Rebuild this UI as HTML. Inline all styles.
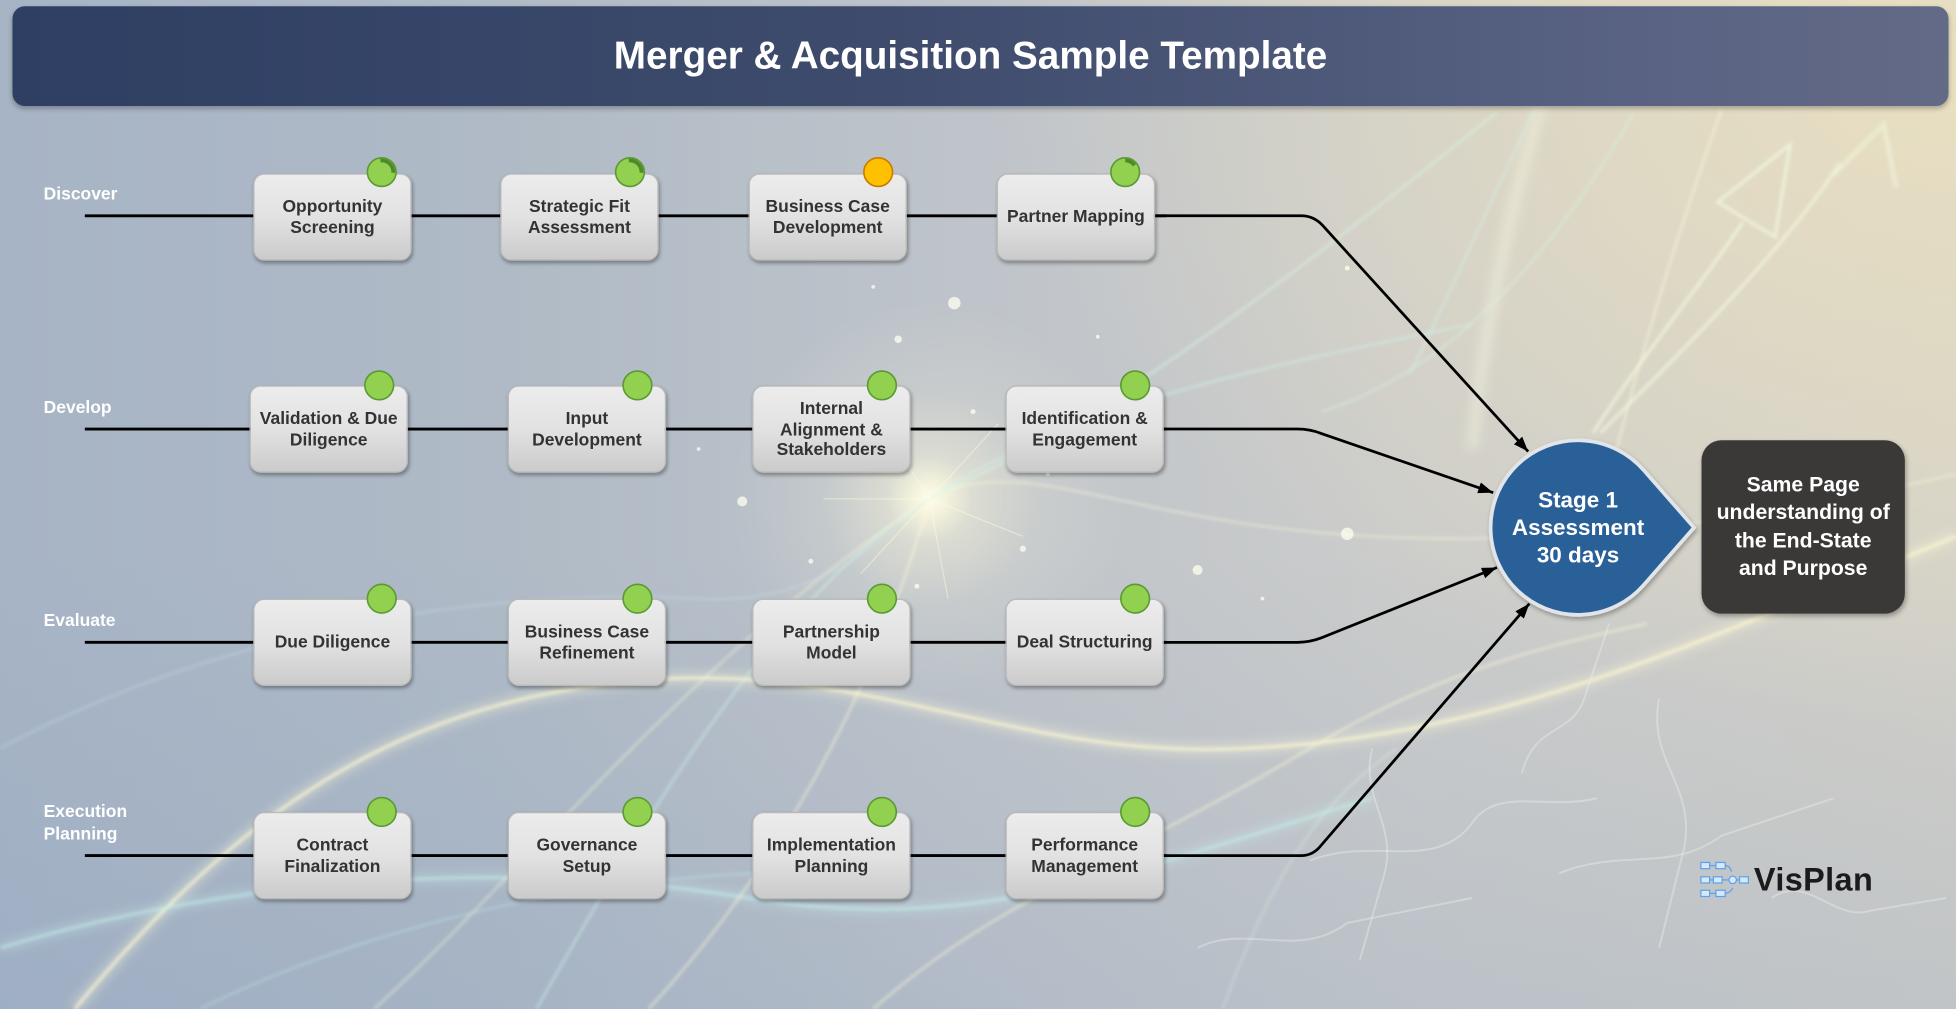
<!DOCTYPE html>
<html>
<head>
<meta charset="utf-8">
<style>
  html, body { margin:0; padding:0; width:1956px; height:1009px; overflow:hidden; background:#b9c0c8; }
  #stage {
    position:absolute; left:0; top:0; width:1568px; height:809px;
    transform: scale(1.24745, 1.24722); transform-origin: 0 0;
    overflow:hidden;
    font-family: "Liberation Sans", Arial, sans-serif;
    background:
      radial-gradient(circle at 745px 400px, rgba(255,254,238,1) 0px, rgba(255,252,225,0.85) 12px, rgba(255,250,220,0.45) 35px, rgba(255,250,220,0.15) 85px, rgba(255,250,220,0) 160px),
      radial-gradient(ellipse 760px 520px at 1568px 60px, rgba(234,224,192,0.95), rgba(234,224,192,0) 100%),
      linear-gradient(to bottom, rgba(0,0,0,0) 55%, rgba(130,155,190,0.22) 100%),
      linear-gradient(90deg, #a7b4c5 0%, #afbac6 25%, #bfc4ca 50%, #cbcccb 72%, #d2d0c9 100%);
  }
  .abs { position:absolute; }
  .header {
    left:10px; top:5px; width:1552px; height:80px; border-radius:10px; box-sizing:border-box; padding-right:16px;
    background: linear-gradient(90deg, #2e3f63 0%, #3e4b6c 45%, #5a6384 85%, #636a86 100%);
    box-shadow: 0 2px 4px rgba(0,0,0,0.25);
    color:#fff; font-weight:bold; font-size:31px; line-height:80px; text-align:center;
  }
  .lbl { color:#fff; font-weight:bold; font-size:14px; line-height:18px; left:35px; }
  .box {
    width:127px; height:70px; box-sizing:border-box;
    border:1px solid #b9b9b9; border-radius:9px;
    background: linear-gradient(to bottom, #ececec 0%, #e2e2e2 50%, #cbcbcb 100%);
    box-shadow: 1px 2px 3px rgba(0,0,0,0.32);
    display:flex; align-items:center; justify-content:center; text-align:center;
    color:#333; font-weight:bold; font-size:14px; line-height:17.5px;
  }
  .stagetxt {
    left:1195px; top:390px; width:140px; height:66px; text-align:center;
    color:#fff; font-weight:bold; font-size:18px; line-height:22px;
  }
  .dark {
    left:1364px; top:353px; width:163px; height:139px; border-radius:16px;
    background:#3a3938; box-shadow: 1px 2px 4px rgba(0,0,0,0.3);
    display:flex; align-items:center; justify-content:center; text-align:center;
    color:#fff; font-weight:bold; font-size:17px; line-height:22.5px;
  }
  .logo { left:1406px; top:688px; font-size:26px; font-weight:bold; color:#1b1b1b; line-height:34px; letter-spacing:0.3px; }
</style>
</head>
<body>
<div id="stage">

  <!-- background streaks -->
  <svg class="abs" style="left:0;top:0" width="1568" height="809" viewBox="0 0 1568 809">
    <defs>
      <filter id="bl" x="-10%" y="-10%" width="120%" height="120%"><feGaussianBlur stdDeviation="1.2"/></filter>
      <filter id="bl4" x="-20%" y="-20%" width="140%" height="140%"><feGaussianBlur stdDeviation="4"/></filter>
    </defs>
    <g fill="none" filter="url(#bl4)">
      <path d="M 1180 360 C 1190 260 1210 170 1235 85" stroke="rgba(245,245,225,0.45)" stroke-width="10"/>
      <path d="M 60 809 C 200 640 330 560 520 545 C 700 532 820 610 1000 600 C 1200 590 1350 520 1568 430" stroke="rgba(255,250,215,0.35)" stroke-width="9"/>
      <path d="M 0 760 C 200 700 420 690 600 720 C 780 750 900 700 1100 640" stroke="rgba(200,240,235,0.3)" stroke-width="8"/>
    </g>
    <g fill="none" filter="url(#bl)">
      <path d="M 60 809 C 200 640 330 560 520 545 C 700 532 820 610 1000 600 C 1200 590 1350 520 1568 430" stroke="rgba(255,250,210,0.7)" stroke-width="2.5"/>
      <path d="M 0 760 C 200 700 420 690 600 720 C 780 750 900 700 1100 640" stroke="rgba(195,242,235,0.6)" stroke-width="2.2"/>
      <path d="M 430 809 C 520 650 620 480 745 400 C 850 330 980 300 1180 260" stroke="rgba(205,245,235,0.5)" stroke-width="2"/>
      <path d="M 745 400 C 900 330 1050 210 1200 90" stroke="rgba(215,245,225,0.55)" stroke-width="2"/>
      <path d="M 520 809 C 620 700 700 560 745 400" stroke="rgba(255,250,215,0.5)" stroke-width="2"/>
      <path d="M 300 809 C 420 700 560 520 745 400 C 820 360 900 420 1100 430 C 1250 438 1400 420 1568 380" stroke="rgba(250,250,220,0.45)" stroke-width="1.8"/>
      <path d="M 0 600 C 150 520 350 470 560 480 C 650 485 700 440 745 400" stroke="rgba(200,235,235,0.35)" stroke-width="1.6"/>
      <path d="M 1277 347 C 1320 280 1370 220 1397 178" stroke="rgba(242,248,222,0.75)" stroke-width="2.5"/>
      <path d="M 1283 347 C 1350 280 1430 200 1475 131" stroke="rgba(242,248,222,0.7)" stroke-width="2.5"/>
      <path d="M 1377 162 L 1435 116 L 1423 190 Z" stroke="rgba(242,248,225,0.75)" stroke-width="2.5"/>
      <path d="M 1470 140 L 1510 100 L 1520 150" stroke="rgba(242,248,225,0.5)" stroke-width="4"/>
      <path d="M 1270 470 C 1300 330 1340 200 1380 88" stroke="rgba(255,248,220,0.55)" stroke-width="1.8"/>
      <path d="M 1130 300 C 1170 220 1200 150 1230 88" stroke="rgba(210,240,230,0.55)" stroke-width="1.8"/>
      <path d="M 1060 330 C 1150 300 1230 230 1310 90" stroke="rgba(215,245,225,0.45)" stroke-width="2"/>
      <path d="M 700 809 C 800 720 900 690 1050 600 C 1150 540 1230 520 1320 500" stroke="rgba(255,250,215,0.5)" stroke-width="2"/>
      <path d="M 160 809 C 300 740 500 690 720 700" stroke="rgba(190,235,235,0.45)" stroke-width="1.6"/>
      <path d="M 980 809 C 1020 700 1060 640 1120 600" stroke="rgba(220,245,225,0.4)" stroke-width="1.6"/>
    </g>
    <!-- starburst rays -->
    <g stroke="rgba(255,252,225,0.45)" stroke-width="1" fill="none">
      <line x1="745" y1="400" x2="700" y2="330"/>
      <line x1="745" y1="400" x2="800" y2="340"/>
      <line x1="745" y1="400" x2="820" y2="430"/>
      <line x1="745" y1="400" x2="690" y2="460"/>
      <line x1="745" y1="400" x2="760" y2="480"/>
      <line x1="745" y1="400" x2="660" y2="400"/>
    </g>
    <!-- faint puzzle outlines -->
    <g fill="none" stroke="rgba(236,240,236,0.4)" stroke-width="1.6">
      <path d="M 1100 600 C 1090 640 1120 660 1110 700 L 1090 770"/>
      <path d="M 1050 690 C 1100 670 1150 700 1180 660 C 1200 630 1240 650 1280 640"/>
      <path d="M 1220 620 C 1230 580 1260 590 1270 560 L 1290 500"/>
      <path d="M 1250 700 C 1300 680 1340 700 1380 670 L 1470 640"/>
      <path d="M 1330 560 C 1320 610 1360 630 1350 680 L 1330 760"/>
      <path d="M 960 760 C 1000 740 1040 770 1080 740 L 1180 720"/>
      <path d="M 1420 720 C 1450 700 1470 740 1500 730 L 1560 720"/>
    </g>
    <g fill="rgba(255,255,240,0.75)">
      <circle cx="765" cy="243" r="5"/><circle cx="720" cy="272" r="3"/><circle cx="595" cy="402" r="4"/>
      <circle cx="780" cy="330" r="2"/><circle cx="690" cy="360" r="2"/><circle cx="820" cy="440" r="2.5"/>
      <circle cx="650" cy="450" r="2"/><circle cx="700" cy="230" r="1.5"/><circle cx="880" cy="270" r="1.5"/>
      <circle cx="1080" cy="428" r="5"/><circle cx="960" cy="457" r="4"/><circle cx="560" cy="360" r="1.5"/>
      <circle cx="610" cy="320" r="1.5"/><circle cx="840" cy="380" r="1.5"/><circle cx="735" cy="470" r="2"/>
      <circle cx="1080" cy="215" r="2"/><circle cx="1012" cy="480" r="1.5"/>
    </g>
  </svg>

  <div class="abs header">Merger &amp; Acquisition Sample Template</div>

  <div class="abs lbl" style="top:146px">Discover</div>
  <div class="abs lbl" style="top:317px">Develop</div>
  <div class="abs lbl" style="top:488px">Evaluate</div>
  <div class="abs lbl" style="top:641px">Execution<br>Planning</div>

  <!-- lines and connectors -->
  <svg class="abs" style="left:0;top:0" width="1568" height="809" viewBox="0 0 1568 809">
    <defs>
      <marker id="ah" markerUnits="userSpaceOnUse" markerWidth="13" markerHeight="10" refX="12" refY="4.5" orient="auto">
        <path d="M0,0 L12,4.5 L0,9 Z" fill="#000"/>
      </marker>
    </defs>
    <g stroke="#000" stroke-width="2.3" fill="none">
      <line x1="68" y1="173" x2="935" y2="173"/>
      <line x1="68" y1="344" x2="935" y2="344"/>
      <line x1="68" y1="515" x2="935" y2="515"/>
      <line x1="68" y1="686" x2="935" y2="686"/>
    </g>
    <g stroke="#000" stroke-width="2.2" fill="none" marker-end="url(#ah)">
      <path d="M 925 173 L 1043 173 Q 1053 173 1060 180.5 L 1225 362"/>
      <path d="M 930 344 L 1040 344 Q 1050 344 1059 347.5 L 1197 395"/>
      <path d="M 930 515 L 1040 515 Q 1050 515 1059 511.5 L 1200 455"/>
      <path d="M 930 686 L 1043 686 Q 1052 686 1058 679 L 1226 484"/>
    </g>
  </svg>

  <!-- Row 1 -->
  <div class="abs box" style="left:203px;top:139px">Opportunity<br>Screening</div>
  <div class="abs box" style="left:401px;top:139px">Strategic Fit<br>Assessment</div>
  <div class="abs box" style="left:600px;top:139px">Business Case<br>Development</div>
  <div class="abs box" style="left:799px;top:139px">Partner Mapping</div>
  <!-- Row 2 -->
  <div class="abs box" style="left:200px;top:309px">Validation &amp; Due<br>Diligence</div>
  <div class="abs box" style="left:407px;top:309px">Input<br>Development</div>
  <div class="abs box" style="left:603px;top:309px;line-height:16.5px">Internal<br>Alignment &amp;<br>Stakeholders</div>
  <div class="abs box" style="left:806px;top:309px">Identification &amp;<br>Engagement</div>
  <!-- Row 3 -->
  <div class="abs box" style="left:203px;top:480px">Due Diligence</div>
  <div class="abs box" style="left:407px;top:480px">Business Case<br>Refinement</div>
  <div class="abs box" style="left:603px;top:480px">Partnership<br>Model</div>
  <div class="abs box" style="left:806px;top:480px">Deal Structuring</div>
  <!-- Row 4 -->
  <div class="abs box" style="left:203px;top:651px">Contract<br>Finalization</div>
  <div class="abs box" style="left:407px;top:651px">Governance<br>Setup</div>
  <div class="abs box" style="left:603px;top:651px">Implementation<br>Planning</div>
  <div class="abs box" style="left:806px;top:651px">Performance<br>Management</div>

  <!-- status circles, stage shape, logo icon -->
  <svg class="abs" style="left:0;top:0" width="1568" height="809" viewBox="0 0 1568 809">
    <defs>
      <filter id="sh" x="-20%" y="-20%" width="140%" height="140%">
        <feDropShadow dx="1" dy="2" stdDeviation="2" flood-color="#000" flood-opacity="0.3"/>
      </filter>
    </defs>
    <g fill="#92d050" stroke="#5b9a32" stroke-width="1.3">
      <circle cx="306" cy="138" r="11.5"/>
      <circle cx="505" cy="138" r="11.5"/>
      <circle cx="902" cy="138" r="11.5"/>
      <circle cx="304" cy="309" r="11.5"/>
      <circle cx="511" cy="309" r="11.5"/>
      <circle cx="707" cy="309" r="11.5"/>
      <circle cx="910" cy="309" r="11.5"/>
      <circle cx="306" cy="480" r="11.5"/>
      <circle cx="511" cy="480" r="11.5"/>
      <circle cx="707" cy="480" r="11.5"/>
      <circle cx="910" cy="480" r="11.5"/>
      <circle cx="306" cy="651" r="11.5"/>
      <circle cx="511" cy="651" r="11.5"/>
      <circle cx="707" cy="651" r="11.5"/>
      <circle cx="910" cy="651" r="11.5"/>
    </g>
    <circle cx="704" cy="138" r="11.5" fill="#ffc000" stroke="#c97b00" stroke-width="1.3"/>
    <g fill="none" stroke="#4e8a2a" stroke-width="3">
      <path d="M 305.0 128.7 A 9.3 9.3 0 0 1 315.2 138.5"/>
      <path d="M 504.0 128.7 A 9.3 9.3 0 0 1 514.2 138.5"/>
      <path d="M 902.0 128.7 A 9.3 9.3 0 0 1 909.5 132.5"/>
    </g>

    <path d="M 1317.6 376.9 L 1358 423 L 1317.6 469.1 A 70 70 0 1 1 1317.6 376.9 Z"
          fill="#2b6098" stroke="#e1e4e8" stroke-width="3" filter="url(#sh)"/>

    <!-- VisPlan icon -->
    <g fill="#d6e8fa" stroke="#5ea3ea" stroke-width="1">
      <rect x="1363.5" y="691.5" width="7" height="5"/>
      <rect x="1375.5" y="691.5" width="7.5" height="5"/>
      <rect x="1363.5" y="703" width="7" height="5"/>
      <rect x="1373.5" y="703" width="7" height="5"/>
      <rect x="1394.5" y="703" width="7" height="5"/>
      <circle cx="1389" cy="705.5" r="3"/>
      <rect x="1363.5" y="713.8" width="7" height="5"/>
      <rect x="1375.5" y="713.8" width="7.5" height="5"/>
    </g>
    <g fill="none" stroke="#5ea3ea" stroke-width="1">
      <line x1="1370.5" y1="694" x2="1375.5" y2="694"/>
      <path d="M 1383 694 Q 1387 694 1388 699"/>
      <line x1="1370.5" y1="705.5" x2="1373.5" y2="705.5"/>
      <line x1="1380.5" y1="705.5" x2="1386" y2="705.5"/>
      <line x1="1392" y1="705.5" x2="1394.5" y2="705.5"/>
      <line x1="1370.5" y1="716.3" x2="1375.5" y2="716.3"/>
      <path d="M 1383 716.3 Q 1387 716 1389 712"/>
    </g>
  </svg>

  <div class="abs stagetxt">Stage 1<br>Assessment<br>30 days</div>

  <div class="abs dark">Same Page<br>understanding of<br>the End-State<br>and Purpose</div>

  <div class="abs logo">VisPlan</div>
</div>
</body>
</html>
